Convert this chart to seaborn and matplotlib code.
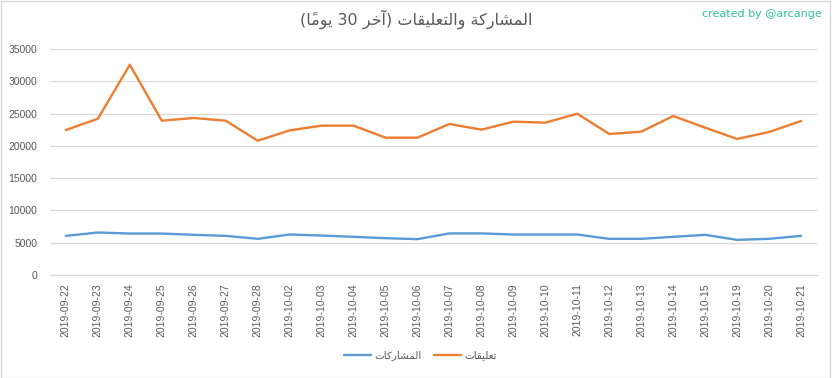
import matplotlib
matplotlib.use("Agg")
import matplotlib.pyplot as plt
from matplotlib.patches import Rectangle
import pandas as pd
import seaborn as sns

dates = ["2019-09-22", "2019-09-23", "2019-09-24", "2019-09-25", "2019-09-26", "2019-09-27",
         "2019-09-28", "2019-10-02", "2019-10-03", "2019-10-04", "2019-10-05", "2019-10-06",
         "2019-10-07", "2019-10-08", "2019-10-09", "2019-10-10", "2019-10-11", "2019-10-12",
         "2019-10-13", "2019-10-14", "2019-10-15", "2019-10-19", "2019-10-20", "2019-10-21"]
posts = [6040, 6560, 6400, 6400, 6200, 6040, 5580, 6250, 6090, 5890, 5680, 5530,
         6420, 6420, 6250, 6250, 6250, 5580, 5580, 5890, 6200, 5420, 5580, 6040]
comments = [22460, 24210, 32580, 23900, 24320, 23900, 20800, 22400, 23130, 23130, 21270, 21270,
            23390, 22510, 23750, 23600, 24980, 21840, 22200, 24630, 22820, 21070, 22150, 23850]
series_names = ["المشاركات", "تعليقات"]
title_text = "المشاركة والتعليقات (آخر 30 يومًا)"
yticks = [0, 5000, 10000, 15000, 20000, 25000, 30000, 35000]

# matplotlib has no arabic shaping, so do a minimal one by hand
FORMS = {  # isolated, final, initial, medial
    "ا": ("\uFE8D", "\uFE8E", None, None),
    "آ": ("\uFE81", "\uFE82", None, None),
    "ر": ("\uFEAD", "\uFEAE", None, None),
    "و": ("\uFEED", "\uFEEE", None, None),
    "ة": ("\uFE93", "\uFE94", None, None),
    "ل": ("\uFEDD", "\uFEDE", "\uFEDF", "\uFEE0"),
    "م": ("\uFEE1", "\uFEE2", "\uFEE3", "\uFEE4"),
    "ش": ("\uFEB5", "\uFEB6", "\uFEB7", "\uFEB8"),
    "ك": ("\uFED9", "\uFEDA", "\uFEDB", "\uFEDC"),
    "ت": ("\uFE95", "\uFE96", "\uFE97", "\uFE98"),
    "ع": ("\uFEC9", "\uFECA", "\uFECB", "\uFECC"),
    "ي": ("\uFEF1", "\uFEF2", "\uFEF3", "\uFEF4"),
    "ق": ("\uFED5", "\uFED6", "\uFED7", "\uFED8"),
    "خ": ("\uFEA5", "\uFEA6", "\uFEA7", "\uFEA8"),
}
DUAL = "لمشكتعيقخ"
MARKS = "\u064B"


def rtl(text):
    out = []
    for i, c in enumerate(text):
        if c not in FORMS:
            out.append(c)
            continue
        j = i - 1
        while j >= 0 and text[j] in MARKS:
            j -= 1
        k = i + 1
        while k < len(text) and text[k] in MARKS:
            k += 1
        prev_ok = j >= 0 and text[j] in DUAL
        next_ok = c in DUAL and k < len(text) and text[k] in FORMS
        idx = 3 if (prev_ok and next_ok) else 1 if prev_ok else 2 if next_ok else 0
        out.append(FORMS[c][idx])
    # plain reversal; the mark then lands before its base, which is where DejaVu draws it
    out = out[::-1]
    res, digits = [], []
    for ch in out:
        if ch.isdigit():
            digits.append(ch)
            continue
        if digits:
            res.extend(digits[::-1])
            digits = []
        res.append({"(": ")", ")": "("}.get(ch, ch))
    res.extend(digits[::-1])
    return "".join(res)


df = pd.DataFrame({
    "date": dates * 2,
    "value": posts + comments,
    "series": [rtl(series_names[0])] * len(dates) + [rtl(series_names[1])] * len(dates),
})

sns.set_style("white")
plt.rcParams["font.family"] = ["Liberation Sans", "DejaVu Sans"]

grey = "#595959"
fig = plt.figure(figsize=(8.32, 3.78), dpi=100)
ax = fig.add_axes([0.060, 0.273, 0.922, 0.597])
sns.lineplot(data=df, x="date", y="value", hue="series", sort=False,
             palette=["#5b9bd5", "#ed7d31"], linewidth=1.7, ax=ax, legend=False)

ax.set_xlim(-0.5, len(dates) - 0.5)
ax.set_ylim(0, 35000)
ax.set_yticks(yticks)
ax.set_yticklabels([str(v) for v in yticks])
ax.set_xlabel("")
ax.set_ylabel("")
ax.grid(axis="y", color="#d9d9d9", linewidth=0.9)
ax.grid(axis="x", visible=False)
ax.axhline(0, color="#d9d9d9", linewidth=0.9, clip_on=False, zorder=0.5)
for s in ax.spines.values():
    s.set_visible(False)
ax.tick_params(axis="x", labelrotation=90, length=0, pad=6, labelsize=7.5, labelcolor=grey)
ax.tick_params(axis="y", length=0, pad=9, labelsize=7.5, labelcolor=grey)

fig.text(0.5, 0.948, rtl(title_text), ha="center", va="center", fontsize=11.5,
         color=grey, family="DejaVu Sans")
fig.text(0.988, 0.962, "created by @arcange", ha="right", va="center", fontsize=8,
         color="#2ec4a0", family="DejaVu Sans")

handles = ax.get_lines()[:2]
fig.legend(handles, [rtl(n) for n in series_names], loc="center", bbox_to_anchor=(0.505, 0.06),
           ncol=2, frameon=False, labelcolor=grey, handlelength=2.6,
           handletextpad=0.3, columnspacing=1.2,
           prop={"family": "DejaVu Sans", "size": 7.5})

fig.patches.append(Rectangle((0.001, 0.001), 0.996, 0.997, transform=fig.transFigure,
                             fill=False, edgecolor="#d9d9d9", linewidth=1))

fig.savefig("out.png", dpi=100)
